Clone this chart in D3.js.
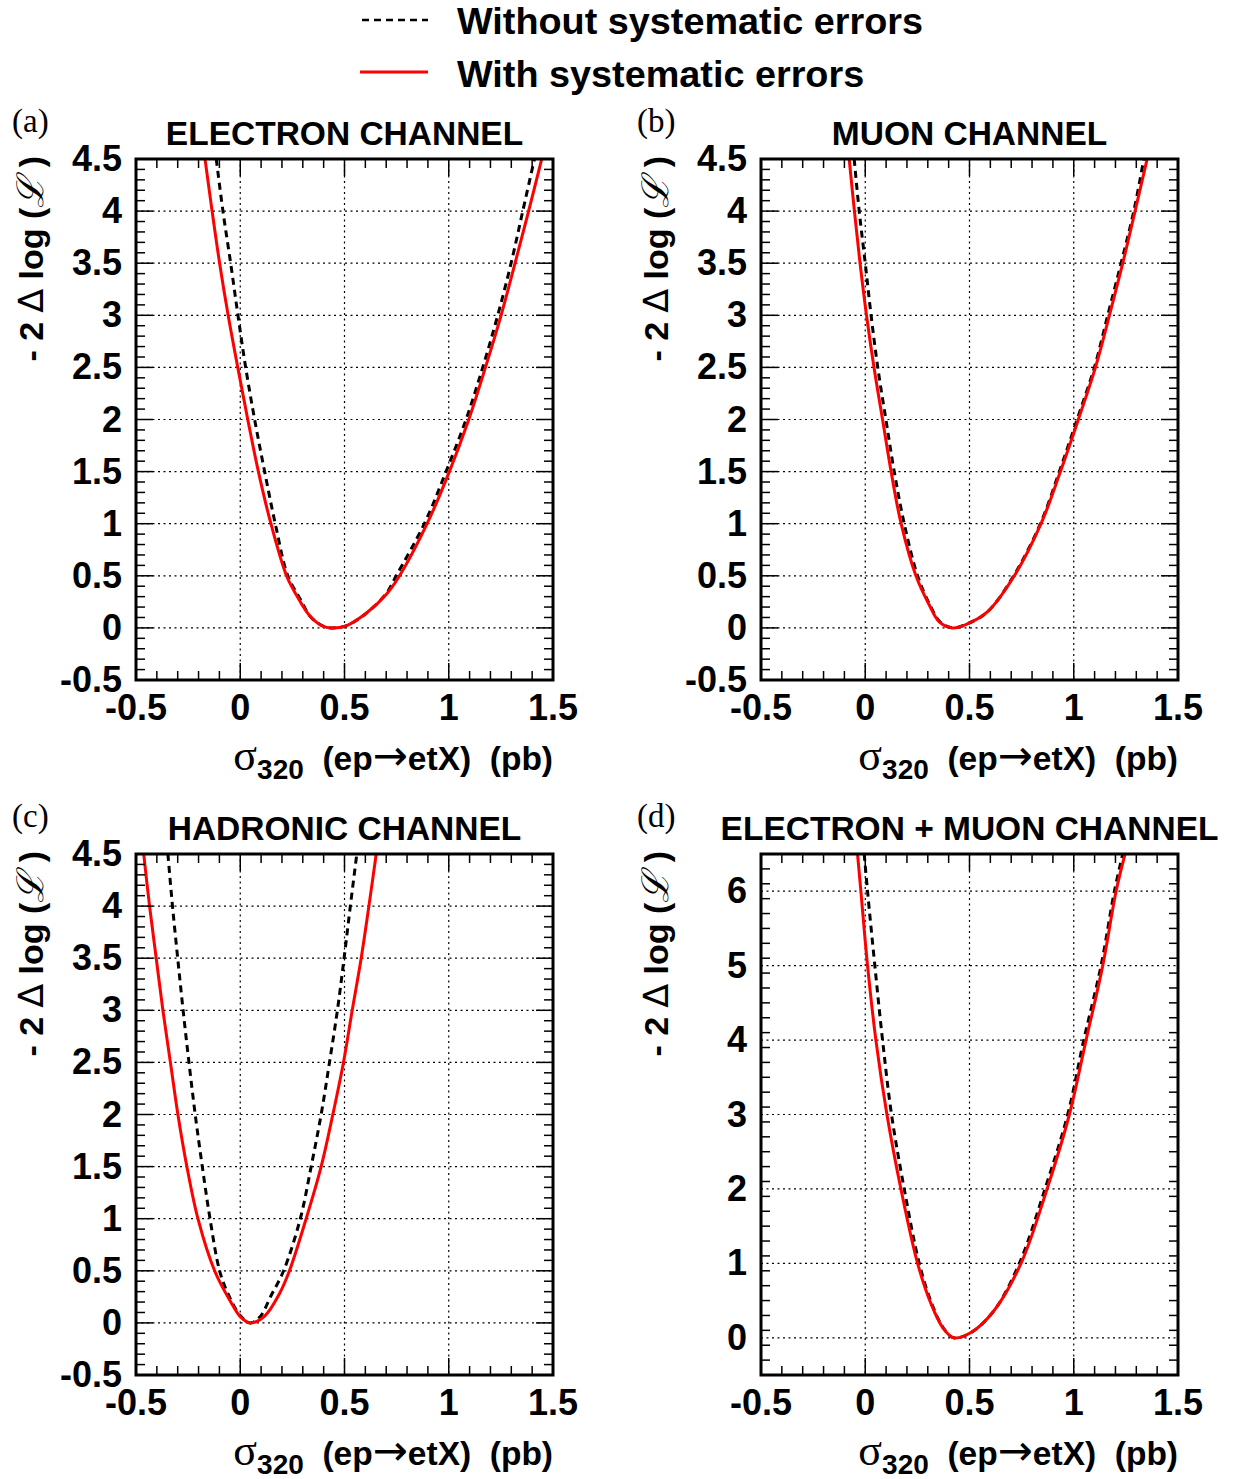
<!DOCTYPE html>
<html><head><meta charset="utf-8">
<script src="https://cdn.jsdelivr.net/npm/d3@7"></script>
<style>body{margin:0;background:#fff}</style>
</head><body>
<script>
// ---------------- DATA ----------------
const xTickValues = [-0.5, 0, 0.5, 1, 1.5];
const xTickLabels = ["-0.5", "0", "0.5", "1", "1.5"];
const yTickValuesStd = [-0.5, 0, 0.5, 1, 1.5, 2, 2.5, 3, 3.5, 4, 4.5];
const yTickLabelsStd = ["-0.5", "0", "0.5", "1", "1.5", "2", "2.5", "3", "3.5", "4", "4.5"];
const yTickValuesComb = [0, 1, 2, 3, 4, 5, 6];
const yTickLabelsComb = ["0", "1", "2", "3", "4", "5", "6"];
const panelLetters = ["(a)", "(b)", "(c)", "(d)"];
const panelTitles = ["ELECTRON CHANNEL", "MUON CHANNEL", "HADRONIC CHANNEL", "ELECTRON + MUON CHANNEL"];
const legendLabels = ["Without systematic errors", "With systematic errors"];

// (a) electron channel
const elecWithX = [-0.169,-0.135,-0.099,-0.058,-0.012,0.036,0.087,0.147,0.222,0.268,0.332,0.396,0.436,0.508,0.604,0.700,0.764,0.896,1.003,1.096,1.176,1.251,1.318,1.383,1.446];
const elecWithY = [4.5,4,3.5,3,2.5,2,1.5,1,0.5,0.32,0.12,0.017,0,0.02,0.14,0.32,0.5,1,1.5,2,2.5,3,3.5,4,4.5];
const elecWithoutX = [-0.115,-0.083,-0.046,-0.011,0.026,0.069,0.117,0.168,0.228,0.284,0.340,0.400,0.436,0.508,0.604,0.700,0.748,0.883,0.987,1.083,1.163,1.235,1.299,1.355,1.411];
const elecWithoutY = [4.5,4,3.5,3,2.5,2,1.5,1,0.5,0.29,0.10,0.015,0,0.02,0.14,0.33,0.5,1,1.5,2,2.5,3,3.5,4,4.5];

// (b) muon channel
const muonWithX = [-0.077,-0.052,-0.025,0.006,0.042,0.083,0.124,0.172,0.243,0.307,0.355,0.419,0.491,0.587,0.715,0.843,0.936,1.022,1.104,1.171,1.235,1.294,1.352];
const muonWithY = [4.5,4,3.5,3,2.5,2,1.5,1,0.5,0.22,0.057,0,0.04,0.156,0.5,1,1.5,2,2.5,3,3.5,4,4.5];
const muonWithoutX = [-0.053,-0.029,0.000,0.028,0.060,0.099,0.139,0.187,0.251,0.310,0.360,0.419,0.491,0.587,0.712,0.840,0.931,1.016,1.099,1.163,1.227,1.288,1.336];
const muonWithoutY = [4.5,4,3.5,3,2.5,2,1.5,1,0.5,0.22,0.055,0,0.04,0.156,0.5,1,1.5,2,2.5,3,3.5,4,4.5];

// (c) hadronic channel
const hadWithX = [-0.463,-0.435,-0.403,-0.371,-0.335,-0.299,-0.256,-0.203,-0.123,-0.051,0.005,0.048,0.117,0.188,0.236,0.316,0.388,0.444,0.495,0.537,0.580,0.617,0.652];
const hadWithY = [4.5,4,3.5,3,2.5,2,1.5,1,0.5,0.22,0.05,0,0.066,0.28,0.5,1,1.5,2,2.5,3,3.5,4,4.5];
const hadWithoutX = [-0.347,-0.325,-0.300,-0.274,-0.246,-0.216,-0.182,-0.145,-0.099,-0.059,0.0,0.048,0.095,0.150,0.208,0.288,0.340,0.388,0.428,0.466,0.498,0.528,0.559];
const hadWithoutY = [4.5,4,3.5,3,2.5,2,1.5,1,0.5,0.28,0.07,0,0.06,0.27,0.5,1,1.5,2,2.5,3,3.5,4,4.5];

// (d) electron + muon channel
const combWithX = [-0.037,-0.021,0.011,0.051,0.104,0.171,0.251,0.315,0.371,0.424,0.507,0.619,0.747,0.872,0.979,1.059,1.139,1.203,1.246];
const combWithY = [6.5,6,5,4,3,2,1,0.46,0.14,0,0.07,0.37,1,2,3,4,5,6,6.5];
const combWithoutX = [-0.005,0.011,0.046,0.083,0.126,0.187,0.259,0.320,0.375,0.424,0.507,0.619,0.739,0.862,0.971,1.048,1.131,1.195,1.235];
const combWithoutY = [6.5,6,5,4,3,2,1,0.45,0.13,0,0.07,0.37,1,2,3,4,5,6,6.5];

// ---------------- LAYOUT ----------------
const W = 1237, H = 1479;
const PW = 417, PH = 521;
const panelPos = [[136,159],[761,159],[136,854],[761,854]];
const SANS = "'Liberation Sans', Arial, Helvetica, sans-serif";
const SERIF = "'Liberation Serif', 'DejaVu Serif', serif";

const svg = d3.select("body").append("svg").attr("width", W).attr("height", H)
  .style("background", "#fff");

const panels = [
  {withX: elecWithX, withY: elecWithY, woX: elecWithoutX, woY: elecWithoutY, yDom: [-0.5,4.5], yT: yTickValuesStd, yL: yTickLabelsStd, yMinorStep: 0.1, yGrid: [0,0.5,1,1.5,2,2.5,3,3.5,4]},
  {withX: muonWithX, withY: muonWithY, woX: muonWithoutX, woY: muonWithoutY, yDom: [-0.5,4.5], yT: yTickValuesStd, yL: yTickLabelsStd, yMinorStep: 0.1, yGrid: [0,0.5,1,1.5,2,2.5,3,3.5,4]},
  {withX: hadWithX, withY: hadWithY, woX: hadWithoutX, woY: hadWithoutY, yDom: [-0.5,4.5], yT: yTickValuesStd, yL: yTickLabelsStd, yMinorStep: 0.1, yGrid: [0,0.5,1,1.5,2,2.5,3,3.5,4]},
  {withX: combWithX, withY: combWithY, woX: combWithoutX, woY: combWithoutY, yDom: [-0.5,6.5], yT: yTickValuesComb, yL: yTickLabelsComb, yMinorStep: 0.2, yGrid: [0,1,2,3,4,5,6]}
];

const defs = svg.append("defs");

panels.forEach((p, i) => {
  const [L, T] = panelPos[i];
  const x = d3.scaleLinear().domain([-0.5, 1.5]).range([0, PW]);
  const y = d3.scaleLinear().domain(p.yDom).range([PH, 0]);
  const g = svg.append("g").attr("transform", `translate(${L},${T})`);

  defs.append("clipPath").attr("id", "clip" + i)
    .append("rect").attr("x", 0).attr("y", 0).attr("width", PW).attr("height", PH);

  // grid
  const gridG = g.append("g").attr("stroke", "#000").attr("stroke-width", 1.2).attr("stroke-dasharray", "2,3.5");
  [0, 0.5, 1].forEach(v => gridG.append("line").attr("x1", x(v)).attr("x2", x(v)).attr("y1", 0).attr("y2", PH));
  p.yGrid.forEach(v => gridG.append("line").attr("y1", y(v)).attr("y2", y(v)).attr("x1", 0).attr("x2", PW));

  // curves
  const line = d3.line().x(d => x(d[0])).y(d => y(d[1])).curve(d3.curveCatmullRom.alpha(0.5));
  const cg = g.append("g").attr("clip-path", `url(#clip${i})`);
  cg.append("path").datum(d3.zip(p.woX, p.woY)).attr("d", line)
    .attr("fill", "none").attr("stroke", "#000").attr("stroke-width", 3).attr("stroke-dasharray", "7,5");
  cg.append("path").datum(d3.zip(p.withX, p.withY)).attr("d", line)
    .attr("fill", "none").attr("stroke", "#ff0000").attr("stroke-width", 3);

  // ticks
  const tg = g.append("g").attr("stroke", "#000").attr("stroke-width", 1.5);
  const xMinor = d3.range(-0.5, 1.5001, 0.1);
  xMinor.forEach(v => {
    const major = Math.abs(v * 2 - Math.round(v * 2)) < 1e-6;
    const len = major ? 17 : 9;
    tg.append("line").attr("x1", x(v)).attr("x2", x(v)).attr("y1", PH).attr("y2", PH - len);
    tg.append("line").attr("x1", x(v)).attr("x2", x(v)).attr("y1", 0).attr("y2", len);
  });
  const n = Math.round((p.yDom[1] - p.yDom[0]) / p.yMinorStep);
  for (let k = 0; k <= n; k++) {
    const v = p.yDom[0] + k * p.yMinorStep;
    const major = p.yT.some(t => Math.abs(t - v) < 1e-6);
    const len = major ? 17 : 9;
    tg.append("line").attr("y1", y(v)).attr("y2", y(v)).attr("x1", 0).attr("x2", len);
    tg.append("line").attr("y1", y(v)).attr("y2", y(v)).attr("x1", PW).attr("x2", PW - len);
  }

  // frame
  g.append("rect").attr("x", 0).attr("y", 0).attr("width", PW).attr("height", PH)
    .attr("fill", "none").attr("stroke", "#000").attr("stroke-width", 3);

  // tick labels
  xTickValues.forEach((v, k) => {
    g.append("text").attr("x", x(v)).attr("y", PH + 40).attr("text-anchor", "middle")
      .attr("font-family", SANS).attr("font-weight", "bold").attr("font-size", 36).text(xTickLabels[k]);
  });
  p.yT.forEach((v, k) => {
    g.append("text").attr("x", -14).attr("y", y(v) + 12).attr("text-anchor", "end")
      .attr("font-family", SANS).attr("font-weight", "bold").attr("font-size", 36).text(p.yL[k]);
  });

  // title
  g.append("text").attr("x", PW / 2).attr("y", -14).attr("text-anchor", "middle")
    .attr("font-family", SANS).attr("font-weight", "bold").attr("font-size", 33.5).text(panelTitles[i]);

  // panel letter
  svg.append("text").attr("x", L - 124).attr("y", T - 27)
    .attr("font-family", SERIF).attr("font-size", 33).text(panelLetters[i]);

  // x-axis title
  const xt = g.append("text").attr("x", PW).attr("y", PH + 90).attr("text-anchor", "end")
    .attr("font-family", SANS).attr("font-weight", "bold").attr("font-size", 33.5);
  xt.append("tspan").attr("font-family", SERIF).attr("font-weight", "normal").attr("font-size", 44).text("σ");
  xt.append("tspan").attr("dy", 9).attr("font-size", 28).text("320");
  xt.append("tspan").attr("dy", -9).text("\u00A0\u00A0(ep");
  xt.append("tspan").attr("font-family", "'DejaVu Sans', sans-serif").attr("font-weight", "normal").attr("font-size", 42).text("→");
  xt.append("tspan").text("etX)\u00A0\u00A0(pb)");

  // y-axis title
  const yt = svg.append("text").attr("transform", `translate(${L - 93},${T - 3}) rotate(-90)`)
    .attr("text-anchor", "end").attr("font-family", SANS).attr("font-weight", "bold").attr("font-size", 34);
  yt.append("tspan").text("- 2 ");
  yt.append("tspan").attr("font-family", "'DejaVu Sans', sans-serif").attr("font-weight", "normal").attr("font-size", 35).text("∆");
  yt.append("tspan").text(" log (");
  yt.append("tspan").attr("font-family", SERIF).attr("font-style", "italic").attr("font-weight", "normal").attr("font-size", 37).text("ℒ");
  yt.append("tspan").text("\u00A0)");
});

// legend
const lg = svg.append("g");
lg.append("line").attr("x1", 362).attr("x2", 428).attr("y1", 20).attr("y2", 20)
  .attr("stroke", "#000").attr("stroke-width", 2.5).attr("stroke-dasharray", "7,5");
lg.append("line").attr("x1", 360).attr("x2", 428).attr("y1", 72).attr("y2", 72)
  .attr("stroke", "#ff0000").attr("stroke-width", 3);
lg.append("text").attr("x", 457).attr("y", 34).attr("font-family", SANS).attr("font-weight", "bold")
  .attr("font-size", 37.8).text(legendLabels[0]);
lg.append("text").attr("x", 457).attr("y", 87).attr("font-family", SANS).attr("font-weight", "bold")
  .attr("font-size", 37.8).text(legendLabels[1]);
</script>
</body></html>
